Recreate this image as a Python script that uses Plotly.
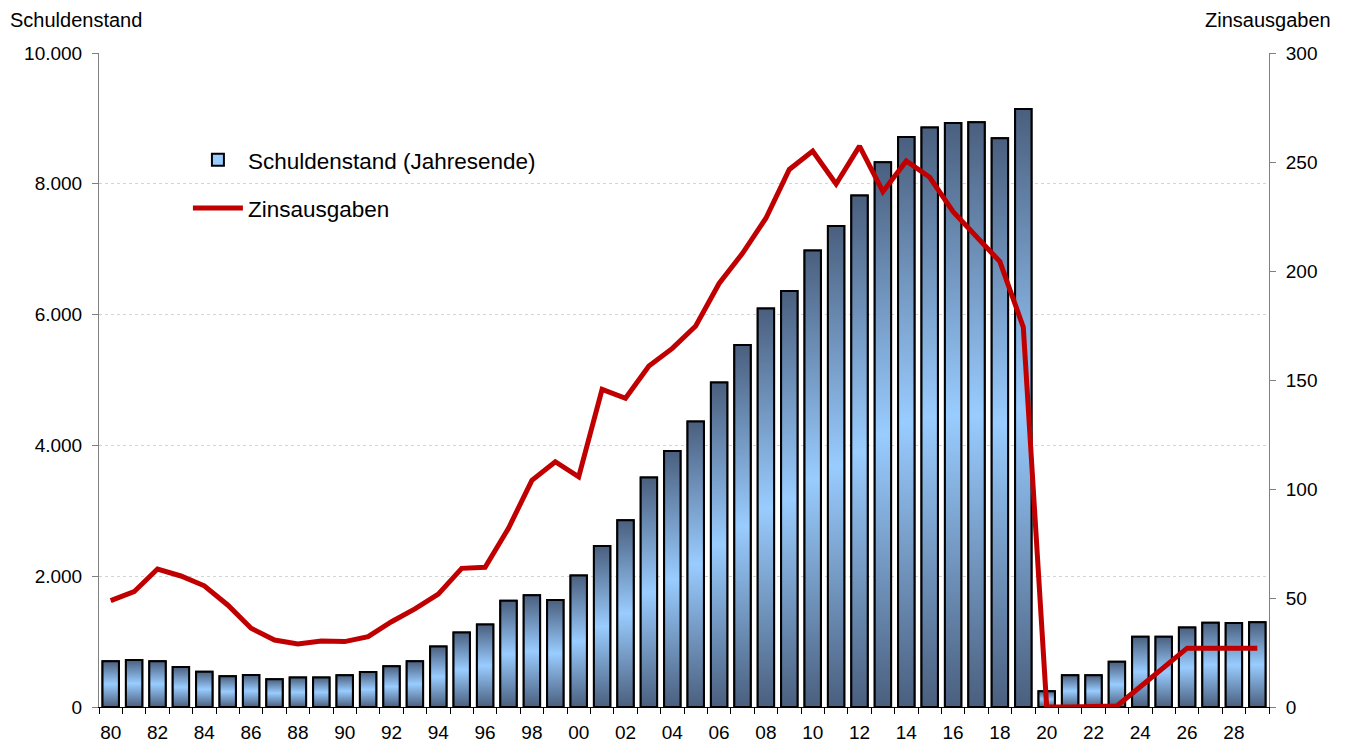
import plotly.graph_objects as go

# Jahre 1980-2029
years = list(range(1980, 2030))

# Schuldenstand zum Jahresende (linke Achse)
schuldenstand = [
    700, 720, 700, 610, 540, 470, 490, 425, 450, 450,
    485, 535, 625, 700, 925, 1140, 1260, 1625, 1710, 1635,
    2010, 2460, 2855, 3510, 3915, 4365, 4960, 5535, 6095, 6360,
    6980, 7355, 7820, 8330, 8715, 8860, 8930, 8940, 8695, 9145,
    240, 485, 485, 690, 1075, 1075, 1215, 1290, 1285, 1295,
]

# Zinsausgaben (rechte Achse)
zinsausgaben = [
    48.8, 52.9, 63.3, 60.1, 55.6, 46.8, 36.1, 30.7, 28.9, 30.3,
    30.0, 32.3, 39.1, 45.0, 51.8, 63.6, 64.1, 82.0, 104.0, 112.5,
    105.6, 145.7, 141.6, 156.4, 164.5, 174.8, 194.3, 208.1, 224.2, 246.6,
    255.0, 239.9, 257.3, 236.4, 250.5, 243.0, 227.2, 215.7, 204.3, 174.2,
    0.0, 0.0, 0.0, 0.5, 9.3, 18.2, 27.0, 27.0, 27.0, 27.0,
]

tick_years = years[::2]
tick_text = [f"{y % 100:02d}" for y in tick_years]

FONT = "Liberation Sans, Arial, sans-serif"
DARK = "#4A5F7E"
LIGHT = "#99CCFF"
RED = "#C00000"
BAR_W = 0.7
HALF = BAR_W / 2

fig = go.Figure()

# Balken (tragen den Legendeneintrag)
fig.add_trace(go.Bar(
    x=years, y=schuldenstand, width=BAR_W,
    marker=dict(color=LIGHT, line=dict(color="black", width=2)),
    name="Schuldenstand (Jahresende)", legendgroup="schulden",
    hoverinfo="skip",
))

# Verlaufsfüllung je Balken: dunkel oben und unten, hell in der Mitte
for yr, v in zip(years, schuldenstand):
    fig.add_trace(go.Scatter(
        x=[yr - HALF, yr + HALF, yr + HALF, yr - HALF, yr - HALF],
        y=[0, 0, v, v, 0],
        mode="lines", fill="toself",
        line=dict(color="black", width=2),
        fillgradient=dict(
            type="vertical", start=0, stop=v,
            colorscale=[[0, DARK], [0.5, LIGHT], [1, DARK]],
        ),
        showlegend=False, hoverinfo="skip",
    ))

# Zinsausgaben als Linie auf der rechten Achse
fig.add_trace(go.Scatter(
    x=years, y=zinsausgaben, yaxis="y2", mode="lines",
    line=dict(color=RED, width=5),
    name="Zinsausgaben", legendgroup="zins",
))

fig.update_layout(
    width=1345, height=744,
    margin=dict(l=99, r=76, t=53, b=37),
    paper_bgcolor="white", plot_bgcolor="white",
    separators=",.",
    font=dict(family=FONT, size=19, color="black"),
    showlegend=True,
    legend=dict(
        x=0.076, y=0.869, xanchor="left", yanchor="top",
        bgcolor="rgba(0,0,0,0)", font=dict(size=22.5),
        itemwidth=50, tracegroupgap=16, traceorder="grouped",
    ),
    xaxis=dict(
        range=[1979.5, 2029.5], automargin=False,
        tickmode="array", tickvals=tick_years, ticktext=tick_text,
        ticks="outside", ticklen=8, tickcolor="rgba(0,0,0,0)",
        minor=dict(tick0=1979.5, dtick=1, ticks="outside", ticklen=6,
                   tickcolor="black", tickwidth=1),
        showline=True, linecolor="black", linewidth=1,
        showgrid=False, zeroline=False,
        tickfont=dict(size=19),
    ),
    yaxis=dict(
        range=[0, 10000], dtick=2000, tickformat=",d", automargin=False,
        showgrid=True, gridcolor="#d4d4d4", griddash="dot", gridwidth=1,
        showline=True, linecolor="#808080", linewidth=1,
        ticks="outside", ticklen=6, tickcolor="#808080",
        zeroline=False, tickfont=dict(size=19), ticklabelstandoff=6,
    ),
    yaxis2=dict(
        range=[0, 300], dtick=50, overlaying="y", side="right",
        automargin=False,
        showgrid=False, showline=True, linecolor="#808080", linewidth=1,
        ticks="outside", ticklen=6, tickcolor="#808080",
        zeroline=False, tickfont=dict(size=19), ticklabelstandoff=6,
    ),
    annotations=[
        dict(text="Schuldenstand", xref="paper", yref="paper",
             x=-0.078, y=1.05, xanchor="left", yanchor="middle",
             showarrow=False, font=dict(size=20)),
        dict(text="Zinsausgaben", xref="paper", yref="paper",
             x=1.0547, y=1.05, xanchor="right", yanchor="middle",
             showarrow=False, font=dict(size=20)),
    ],
)

fig.write_html("out.html")
